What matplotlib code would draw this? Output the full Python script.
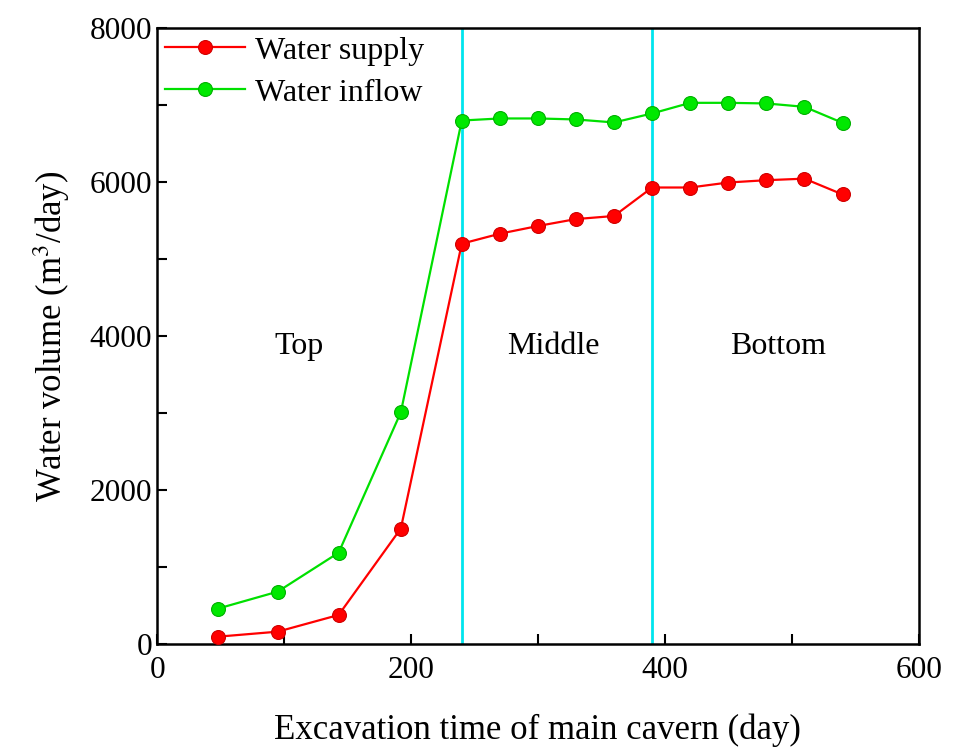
import numpy as np
import matplotlib
matplotlib.use("Agg")
import matplotlib.pyplot as plt
from matplotlib.ticker import MultipleLocator

plt.rcParams['font.family'] = ['Liberation Serif', 'DejaVu Serif']
plt.rcParams['mathtext.fontset'] = 'stix'

# Data
days = [48, 95, 143, 192, 240, 270, 300, 330, 360, 390, 420, 450, 480, 510, 540]
water_supply = [95, 160, 377, 1500, 5200, 5330, 5430, 5520, 5560, 5930, 5930, 5995, 6025, 6045, 5840]
water_inflow = [460, 680, 1186, 3010, 6800, 6827, 6827, 6814, 6775, 6892, 7030, 7030, 7022, 6978, 6770]

stage_bounds = [240, 390]
stage_names = ['Top', 'Middle', 'Bottom']
stage_x = [112, 312, 489]
stage_y = 3870

fig = plt.figure(figsize=(9.64, 7.51), dpi=100)
ax = fig.add_axes([0.163, 0.1425, 0.790, 0.820])

ax.plot(days, water_supply, color='#ff0000', lw=1.6, marker='o', markersize=10,
        markerfacecolor='#ff0000', markeredgecolor='#d00000', markeredgewidth=0.8,
        label='Water supply', zorder=3)
ax.plot(days, water_inflow, color='#00e000', lw=1.6, marker='o', markersize=10,
        markerfacecolor='#00e800', markeredgecolor='#00b000', markeredgewidth=0.8,
        label='Water inflow', zorder=3)

for xb in stage_bounds:
    ax.axvline(xb, color='#00e5ee', lw=2, zorder=2)

for name, xs in zip(stage_names, stage_x):
    ax.text(xs, stage_y, name, fontsize=23, ha='center', va='center')

ax.set_xlim(0, 600)
ax.set_ylim(0, 8000)
ax.xaxis.set_major_locator(MultipleLocator(200))
ax.xaxis.set_minor_locator(MultipleLocator(100))
ax.yaxis.set_major_locator(MultipleLocator(2000))
ax.yaxis.set_minor_locator(MultipleLocator(1000))
ax.tick_params(which='both', direction='in', labelsize=22.5, width=1.5)
ax.tick_params(which='major', length=7)
ax.tick_params(which='minor', length=7)
ax.tick_params(axis='x', pad=9)
for s in ax.spines.values():
    s.set_linewidth(1.8)

ax.set_xlabel('Excavation time of main cavern (day)', fontsize=25, labelpad=20)
ax.set_ylabel('Water volume (m$^3$/day)', fontsize=25, labelpad=13)

ax.legend(loc='upper left', frameon=False, fontsize=23, handlelength=2.5,
          borderaxespad=0.1, borderpad=0.15, labelspacing=0.4, handletextpad=0.3)

fig.savefig('out.png', dpi=100)
